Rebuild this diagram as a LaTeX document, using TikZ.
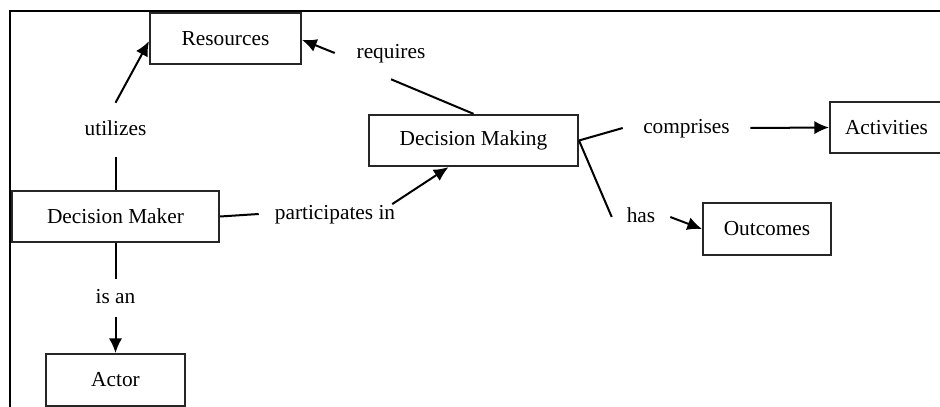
\documentclass[tikz,border=0pt]{standalone}
\usepackage{fontspec}
\setmainfont{Liberation Serif}
\usetikzlibrary{arrows.meta}
\begin{document}
\begin{tikzpicture}[x=0.75pt,y=-0.75pt,
  font=\fontsize{16}{19}\selectfont,
  box/.style={draw=black!85,line width=1.5pt,inner sep=0pt,minimum height=38.5pt,anchor=center},
  lbl/.style={inner sep=0pt,text height=11pt,text depth=3.5pt,anchor=center},
  conn/.style={line width=1.5pt},
  arr/.style={line width=1.5pt,-{Latex[length=11pt,width=10pt]}}]
\clip (0,0) rectangle (940,407);
\fill[white] (0,0) rectangle (940,407);
% frame (left and top edges)
\draw[line width=1.2pt] (10,407) -- (10,11) -- (940,11);
% boxes
\node[box,minimum width=113.25pt] (res) at (225.5,38.5) {Resources};
\node[box,minimum width=156.75pt] (dmk) at (473.5,140.5) {Decision Making};
\node[box,minimum width=84.75pt] (act) at (886.5,127.5) {Activities};
\node[box,minimum width=96pt,minimum height=39pt] (out) at (767,229) {Outcomes};
\node[box,minimum width=155.25pt] (dmr) at (115.5,216.5) {Decision Maker};
\node[box,minimum width=104.25pt,minimum height=39pt] (actor) at (115.5,380) {Actor};
% labels
\node[lbl,minimum width=60pt,minimum height=40.5pt] (util) at (115.5,130) {utilizes};
\node[lbl,minimum width=84pt,minimum height=39pt] (req) at (391,53) {requires};
\node[lbl,minimum width=95.25pt] (comp) at (686.5,128) {comprises};
\node[lbl,minimum width=43.5pt] (has) at (641,217) {has};
\node[lbl,minimum width=114pt] (part) at (335,214) {participates in};
\node[lbl,minimum width=40pt,minimum height=28.5pt] (isan) at (115.5,298) {is an};
% connectors
\draw[conn] (dmr.north) -- (util.south);
\draw[arr] (util.north) -- ([yshift=-2pt]res.west);
\draw[conn] (dmk.north) -- (req.south);
\draw[arr] (req.west) -- ([yshift=-1pt]res.east);
\draw[conn] (dmk.east) -- (comp.west);
\draw[arr] (comp.east) -- (act.west);
\draw[conn] (dmk.east) -- (has.west);
\draw[arr] (has.east) -- (out.west);
\draw[conn] (dmr.east) -- (part.west);
\draw[arr] ([xshift=-14.25pt]part.north east) -- ([xshift=-18.75pt]dmk.south);
\draw[conn] (dmr.south) -- (isan.north);
\draw[arr] (isan.south) -- (actor.north);
\end{tikzpicture}
\end{document}
